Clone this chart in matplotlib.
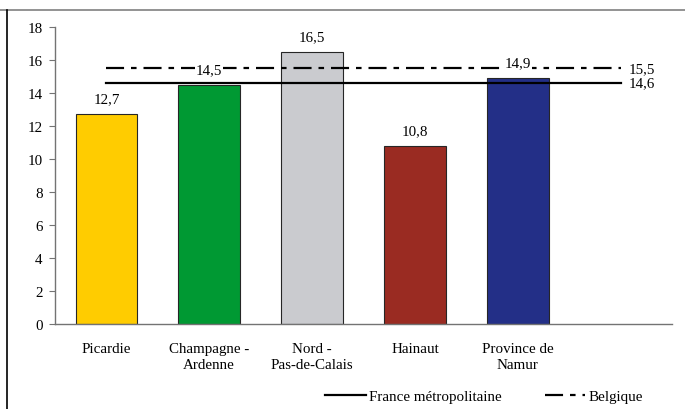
import numpy as np
import matplotlib.pyplot as plt
from matplotlib.lines import Line2D


#################### Data

regions = ['Picardie', 'Champagne -\nArdenne', 'Nord -\nPas-de-Calais',
           'Hainaut', 'Province de\nNamur']
values = [12.7, 14.5, 16.5, 10.8, 14.9]
value_labels = ['12,7', '14,5', '16,5', '10,8', '14,9']

france_ref = 14.6
belgique_ref = 15.5
y_ticks = [0, 2, 4, 6, 8, 10, 12, 14, 16, 18]


#################### Plot parameters

colors = ['#ffcc00', '#009933', '#cacbcf', '#9a2b22', '#232f87']
color_edge = (0.15, 0.15, 0.15)
color_spine = (0.45, 0.45, 0.45)

fs = 10.8

plt.rcParams['font.family'] = ['Liberation Serif', 'DejaVu Serif']
plt.rcParams['font.size'] = fs
plt.rcParams['lines.scale_dashes'] = False

dash_belgique = (0, (13, 5, 4, 5))


#################### Make plot

fig = plt.figure(figsize=(6.85, 4.10), dpi=100)
W, H = 685, 410
ax = fig.add_axes((55 / W, (H - 325) / H, (672 - 55) / W, (325 - 28) / H))

# six slots, the last one left empty
x = np.arange(len(regions))
ax.bar(x, values, width=0.6, color=colors, edgecolor=color_edge, linewidth=0.8, zorder=2)

# value labels above bars
for xi, v, lab in zip(x, values, value_labels):
    ax.annotate(lab, (xi, v), xytext=(0, 11), textcoords='offset points',
                ha='center', va='center', fontsize=fs,
                bbox=dict(facecolor='white', edgecolor='none', pad=0.5), zorder=5)

# reference levels
ax.plot([0, 5], [france_ref, france_ref], color='black', lw=1.6, zorder=3)
ax.plot([0, 5], [belgique_ref, belgique_ref], color='black', lw=1.6,
        linestyle=dash_belgique, zorder=3)
ax.annotate('14,6', (5, france_ref), xytext=(6, 0), textcoords='offset points',
            ha='left', va='center', fontsize=fs)
ax.annotate('15,5', (5, belgique_ref), xytext=(6, 0), textcoords='offset points',
            ha='left', va='center', fontsize=fs)

# axes
ax.set_xlim(-0.5, 5.5)
ax.set_ylim(0, 18)
ax.set_yticks(y_ticks)
ax.set_xticks(x)
ax.set_xticklabels(regions, linespacing=1.25)
ax.tick_params(axis='x', length=0, pad=13)
ax.tick_params(axis='y', length=4, width=0.8, color=color_spine, pad=5)
for side in ['top', 'right']:
    ax.spines[side].set_visible(False)
for side in ['left', 'bottom']:
    ax.spines[side].set_color(color_spine)
    ax.spines[side].set_linewidth(1.0)

# legend
handles = [Line2D([], [], color='black', lw=1.6),
           Line2D([], [], color='black', lw=1.6, linestyle=dash_belgique)]
fig.legend(handles, ['France métropolitaine', 'Belgique'], loc='center',
           bbox_to_anchor=(484 / W, 1 - 397 / H), ncol=2, frameon=False,
           handlelength=2.7, handletextpad=0.2, columnspacing=2.9, fontsize=fs)

# frame around the chart area
fig.add_artist(Line2D([0, 1], [1 - 11 / H, 1 - 11 / H], color='gray', lw=1.2,
                      transform=fig.transFigure))
fig.add_artist(Line2D([7 / W, 7 / W], [0, 1 - 11 / H], color='black', lw=1.2,
                      transform=fig.transFigure))


#################### Save plot

plt.savefig('out.png', dpi=100)
